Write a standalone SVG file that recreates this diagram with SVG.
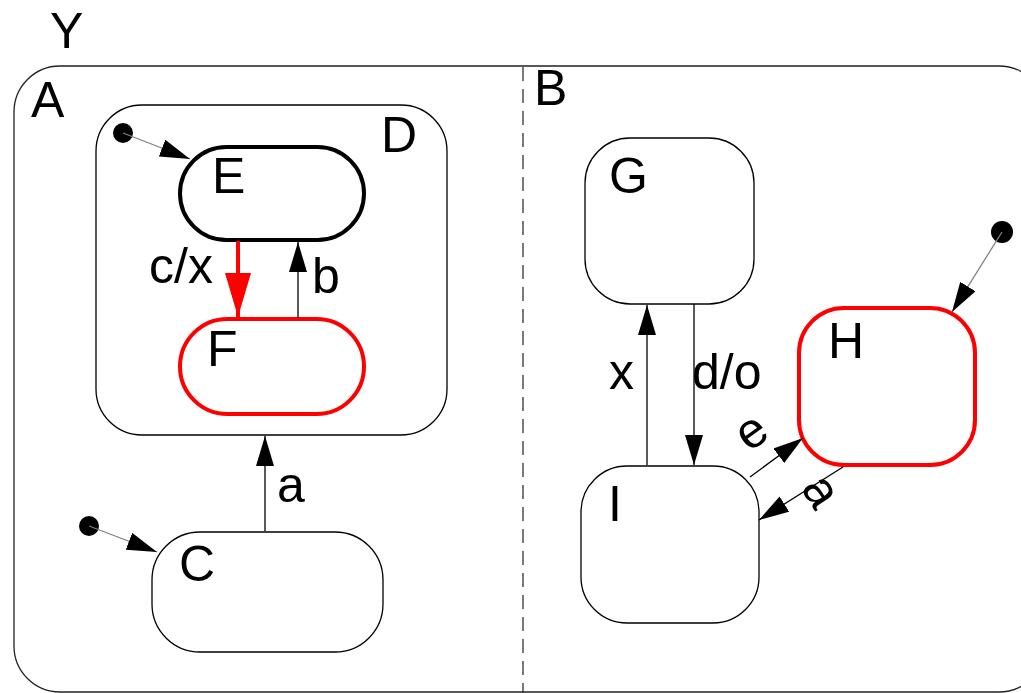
<svg xmlns="http://www.w3.org/2000/svg" width="1021" height="693" viewBox="0 0 1021 693">
<style>
text{font-family:"Liberation Sans",Arial,sans-serif;font-size:50px;fill:#000}
.st{fill:#fff;stroke:#000;stroke-width:1.3}
.act{fill:#fff;stroke:#f00;stroke-width:4}
.bold{fill:#fff;stroke:#000;stroke-width:4}
.con{fill:none;stroke:#000;stroke-width:1.3}
.init{fill:none;stroke:#808080;stroke-width:1.3}
.dot{fill:#000}
</style>
<defs>
<marker id="ah" markerUnits="userSpaceOnUse" markerWidth="30" markerHeight="18" refX="30" refY="9" orient="auto">
<path d="M0,0 L30,9 L0,18 z" fill="#000"/>
</marker>
<marker id="ahr" markerUnits="userSpaceOnUse" markerWidth="44" markerHeight="26" refX="44" refY="13" orient="auto">
<path d="M0,0 L44,13 L0,26 z" fill="#f00"/>
</marker>
</defs>
<g id="Y">
<rect x="14" y="66" width="1031" height="626" rx="46" ry="46" fill="#fff" stroke="#222" stroke-width="1.3"/>
<text x="50" y="48">Y</text>
<line x1="523" y1="67" x2="523" y2="693" stroke="#333" stroke-width="1.3" stroke-dasharray="14 8"/>
</g>
<g id="A"><text x="31" y="117">A</text></g>
<g id="B"><text x="534" y="105">B</text></g>
<g id="D">
<rect class="st" x="96" y="105" width="351" height="330" rx="46" ry="46"/>
<text x="381" y="152">D</text>
</g>
<g id="E">
<rect class="bold" x="180" y="147" width="184" height="93" rx="46.5" ry="46.5"/>
<text x="212" y="193">E</text>
</g>
<g id="F">
<rect class="act" x="180" y="319" width="184" height="95" rx="47.5" ry="47.5"/>
<text x="207" y="366">F</text>
</g>
<g id="C">
<rect class="st" x="152" y="532" width="231" height="120" rx="48" ry="48"/>
<text x="179" y="581">C</text>
</g>
<g id="G">
<rect class="st" x="585" y="138" width="169" height="166" rx="45" ry="45"/>
<text x="609" y="193">G</text>
</g>
<g id="H">
<rect class="act" x="799" y="308" width="176" height="157" rx="45" ry="45"/>
<text x="828" y="358">H</text>
</g>
<g id="I">
<rect class="st" x="581" y="466" width="178" height="157" rx="46" ry="46"/>
<text x="608" y="521">I</text>
</g>
<g id="connectors">
<circle class="dot" cx="123" cy="133" r="10"/>
<line class="init" x1="123" y1="133" x2="190" y2="159" marker-end="url(#ah)"/>
<circle class="dot" cx="89" cy="526" r="10"/>
<line class="init" x1="89" y1="526" x2="157" y2="552" marker-end="url(#ah)"/>
<circle class="dot" cx="1002" cy="232" r="11"/>
<line class="init" x1="1002" y1="232" x2="952" y2="312" marker-end="url(#ah)"/>
<line x1="238" y1="241" x2="238" y2="317" stroke="#f00" stroke-width="4" marker-end="url(#ahr)"/>
<text x="149" y="283">c/x</text>
<line class="con" x1="298" y1="318" x2="298" y2="242" marker-end="url(#ah)"/>
<text x="312" y="293">b</text>
<line class="con" x1="265" y1="531" x2="265" y2="436" marker-end="url(#ah)"/>
<text x="277" y="502">a</text>
<line class="con" x1="647" y1="465" x2="647" y2="305" stroke-width="2" marker-end="url(#ah)"/>
<text x="609" y="389">x</text>
<line class="con" x1="694" y1="304" x2="694" y2="465" marker-end="url(#ah)"/>
<text x="692" y="389">d/o</text>
<line class="con" x1="750" y1="477" x2="803" y2="438" stroke-width="0.9" marker-end="url(#ah)"/>
<text transform="translate(750,430) rotate(-36)" text-anchor="middle" y="18">e</text>
<line class="con" x1="843" y1="467" x2="759" y2="520" marker-end="url(#ah)"/>
<text transform="translate(823,490) rotate(57)" text-anchor="middle" y="18">a</text>
</g>
</svg>
